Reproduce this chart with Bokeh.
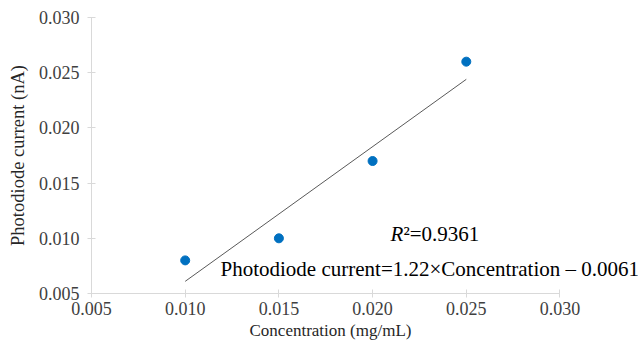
from bokeh.plotting import figure
from bokeh.models import Label, NumeralTickFormatter, FixedTicker, Range1d, Title
from bokeh.embed import file_html
from bokeh.resources import INLINE

concentration = [0.010, 0.015, 0.020, 0.025]
current = [0.008, 0.010, 0.017, 0.026]
slope = 1.22
intercept = -0.0061
r2 = 0.9361
ticks = [0.005, 0.010, 0.015, 0.020, 0.025, 0.030]
x_label = "Concentration (mg/mL)"
y_label = "Photodiode current (nA)"

FONT = "Times New Roman"

p = figure(width=638, height=344, output_backend="svg", toolbar_location=None,
           x_range=Range1d(0.005, 0.03419), y_range=Range1d(0.005, 0.030),
           min_border_left=91, min_border_right=0, min_border_top=17, min_border_bottom=51)
p.outline_line_color = None
p.xgrid.grid_line_color = None
p.ygrid.grid_line_color = None

for ax in (p.xaxis[0], p.yaxis[0]):
    ax.ticker = FixedTicker(ticks=ticks)
    ax.formatter = NumeralTickFormatter(format="0.000")
    ax.axis_line_color = "#d9d9d9"
    ax.major_tick_line_color = "#d9d9d9"
    ax.minor_tick_line_color = None
    ax.major_tick_in = 4
    ax.major_tick_out = 4
    ax.major_label_text_font = FONT
    ax.major_label_text_font_size = "18px"
    ax.major_label_text_font_style = "normal"
    ax.major_label_text_color = "#404040"
    ax.axis_label_text_font = FONT
    ax.axis_label_text_font_style = "normal"
    ax.axis_label_text_color = "#262626"

p.xaxis[0].bounds = (ticks[0], ticks[-1])
p.xaxis.major_label_standoff = 4
p.yaxis.major_label_standoff = 8
p.yaxis.axis_label = y_label
p.yaxis.axis_label_text_font_size = "18.5px"
p.yaxis.axis_label_standoff = 8

p.add_layout(Title(text=x_label, align="left", offset=158, standoff=2,
                   text_font=FONT, text_font_size="17px", text_font_style="normal",
                   text_color="#262626"), "below")

x0, x1 = min(concentration), max(concentration)
p.line([x0, x1], [slope * x0 + intercept, slope * x1 + intercept],
       line_color="#595959", line_width=1)
p.scatter(concentration, current, size=9, fill_color="#0070C0", line_color="#0070C0")

p.add_layout(Label(x=0.020955, y=0.01039, text="R", text_font=FONT, text_font_size="21px",
                   text_font_style="italic", text_baseline="middle", text_color="#000000"))
p.add_layout(Label(x=0.020955, y=0.01039, x_offset=13, text=f"\u00b2={r2}", text_font=FONT,
                   text_font_size="21px", text_baseline="middle", text_color="#000000"))
p.add_layout(Label(x=0.011884, y=0.00722,
                   text=f"Photodiode current={slope}\u00d7Concentration \u2013 {abs(intercept)}",
                   text_font=FONT, text_font_size="21px", text_baseline="middle",
                   text_color="#000000"))

open("out.html", "w").write(file_html(p, INLINE))
